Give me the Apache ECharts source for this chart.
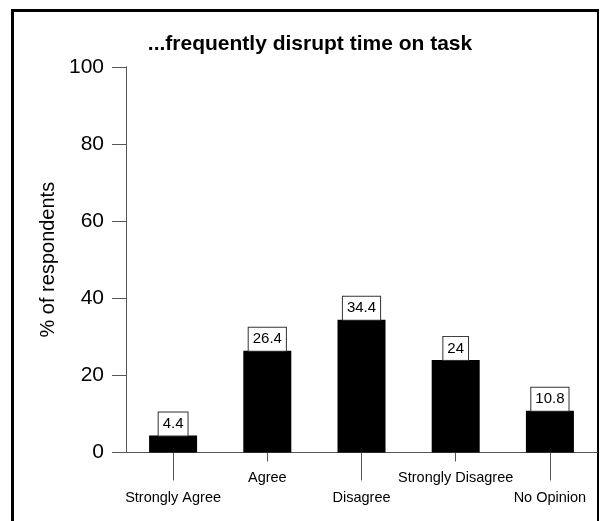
<!DOCTYPE html>
<html>
<head>
<meta charset="utf-8">
<style>
  html, body { margin: 0; padding: 0; background: #fff; }
  #chart { width: 605px; height: 521px; }
</style>
<script src="https://cdn.jsdelivr.net/npm/echarts@6/dist/echarts.min.js"></script>
</head>
<body>
<div id="chart"></div>
<script>
var categories = ["Strongly Agree", "Agree", "Disagree", "Strongly Disagree", "No Opinion"];
var percentValues = [4.4, 26.4, 34.4, 24, 10.8];
var yTicks = [0, 20, 40, 60, 80, 100];

var font = "Liberation Sans, Arial, sans-serif";
var axisGray = "#555";

var chart = echarts.init(document.getElementById("chart"));

var gridBox = { left: 126, right: 8, top: 66.8, bottom: 68.5 };

// even categories get a long tick and a low label, odd ones a short tick and a high label
function isEven(i) { return i % 2 === 0; }
function isOdd(i) { return i % 2 === 1; }

chart.setOption({
  animation: false,
  backgroundColor: "#fff",
  title: {
    text: "...frequently disrupt time on task",
    left: 305,
    top: 29,
    textAlign: "center",
    textStyle: { fontFamily: font, fontWeight: "bold", fontSize: 21, color: "#000" }
  },
  graphic: [{
    type: "polyline",
    shape: { points: [[12.5, 530], [12.5, 10.5], [598, 10.5]] },
    style: { fill: null, stroke: "#000", lineWidth: 3 },
    silent: true
  }, {
    type: "line",
    shape: { x1: 598, y1: 9, x2: 598, y2: 530 },
    style: { stroke: "#000", lineWidth: 2 },
    silent: true
  }],
  grid: [
    Object.assign({}, gridBox),
    Object.assign({}, gridBox)
  ],
  xAxis: [{
    type: "category",
    gridIndex: 0,
    data: categories,
    axisLine: { show: true, lineStyle: { color: axisGray, width: 1 } },
    axisTick: {
      show: true,
      alignWithLabel: true,
      length: 28,
      interval: isEven,
      lineStyle: { color: axisGray, width: 1 }
    },
    axisLabel: {
      interval: isEven,
      margin: 38,
      fontFamily: font,
      fontSize: 14.5,
      color: "#000"
    }
  }, {
    type: "category",
    gridIndex: 1,
    data: categories,
    axisLine: { show: false },
    axisTick: {
      show: true,
      alignWithLabel: true,
      length: 9,
      interval: isOdd,
      lineStyle: { color: axisGray, width: 1 }
    },
    axisLabel: {
      interval: isOdd,
      margin: 18,
      fontFamily: font,
      fontSize: 14.5,
      color: "#000"
    }
  }],
  yAxis: [{
    type: "value",
    gridIndex: 0,
    min: yTicks[0],
    max: yTicks[yTicks.length - 1],
    interval: yTicks[1] - yTicks[0],
    name: "% of respondents",
    nameLocation: "middle",
    nameGap: 68,
    nameTextStyle: { fontFamily: font, fontSize: 20, color: "#000" },
    axisLine: { show: true, lineStyle: { color: axisGray, width: 1 } },
    axisTick: { show: true, length: 14, lineStyle: { color: axisGray } },
    axisLabel: { margin: 22, fontFamily: font, fontSize: 21, color: "#000" },
    splitLine: { show: false }
  }, {
    type: "value",
    gridIndex: 1,
    min: yTicks[0],
    max: yTicks[yTicks.length - 1],
    show: false,
    splitLine: { show: false }
  }],
  series: [{
    type: "bar",
    xAxisIndex: 0,
    yAxisIndex: 0,
    data: percentValues,
    barWidth: 48,
    itemStyle: { color: "#000" },
    label: {
      show: true,
      position: "top",
      distance: 0,
      fontFamily: font,
      fontSize: 15,
      lineHeight: 15,
      color: "#000",
      backgroundColor: "#fff",
      borderColor: "#333",
      borderWidth: 1,
      padding: [4, 4, 4, 4]
    }
  }]
});
</script>
</body>
</html>
